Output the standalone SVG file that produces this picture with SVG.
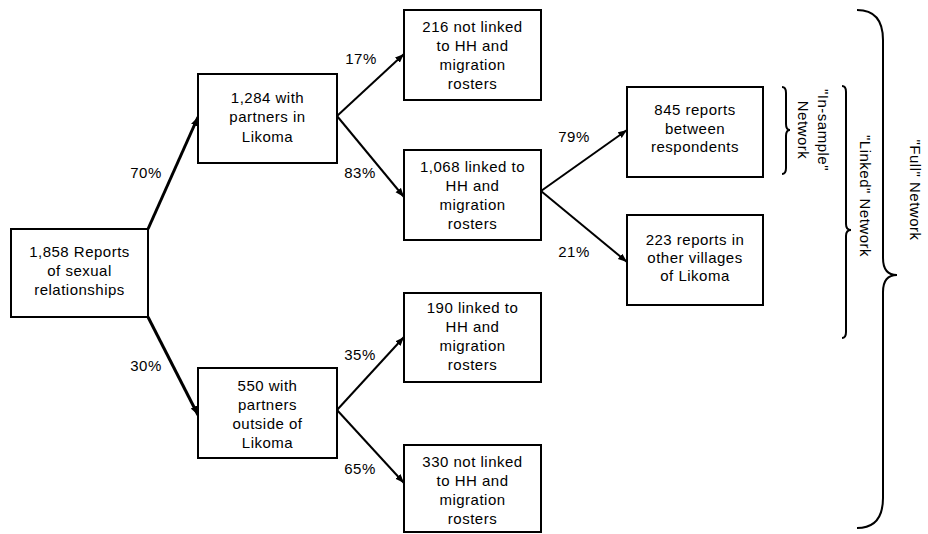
<svg xmlns="http://www.w3.org/2000/svg" width="928" height="534" viewBox="0 0 928 534">
<style>
.box{fill:#fff;stroke:#000;stroke-width:2}
.t{font-family:"Liberation Sans",Arial,sans-serif;font-size:15px;letter-spacing:0.5px;fill:#000;text-anchor:middle}
.c{stroke:#000;stroke-width:2;fill:none}
.br{stroke:#000;stroke-width:2;fill:none}
</style>
<defs>
<marker id="ah" markerUnits="userSpaceOnUse" markerWidth="10" markerHeight="8" refX="9" refY="3.5" orient="auto">
<path d="M0,0 L9,3.5 L0,7 z" fill="#000"/>
</marker>
</defs>
<g id="connectors">
<line class="c" x1="148" y1="229" x2="198" y2="117" style="stroke-width:3" marker-end="url(#ah)"/>
<line class="c" x1="148" y1="317" x2="198" y2="415" style="stroke-width:3" marker-end="url(#ah)"/>
<line class="c" x1="337" y1="116" x2="404" y2="54" marker-end="url(#ah)"/>
<line class="c" x1="337" y1="116" x2="404" y2="197" marker-end="url(#ah)"/>
<line class="c" x1="541" y1="191" x2="627" y2="130" marker-end="url(#ah)"/>
<line class="c" x1="541" y1="191" x2="627" y2="262" marker-end="url(#ah)"/>
<line class="c" x1="337" y1="410" x2="404" y2="337" marker-end="url(#ah)"/>
<line class="c" x1="337" y1="410" x2="404" y2="483" marker-end="url(#ah)"/>
<text class="t" x="146" y="178">70%</text>
<text class="t" x="146" y="371">30%</text>
<text class="t" x="361" y="64">17%</text>
<text class="t" x="360" y="178">83%</text>
<text class="t" x="574" y="142">79%</text>
<text class="t" x="574" y="257">21%</text>
<text class="t" x="360" y="360">35%</text>
<text class="t" x="360" y="474">65%</text>
</g>
<g id="n1">
<rect class="box" x="11" y="229" width="137" height="88"/>
<text class="t" x="79.5" y="257">1,858 Reports</text>
<text class="t" x="79.5" y="276">of sexual</text>
<text class="t" x="79.5" y="295">relationships</text>
</g>
<g id="n2">
<rect class="box" x="198" y="74" width="139" height="89"/>
<text class="t" x="267.5" y="103">1,284 with</text>
<text class="t" x="267.5" y="122">partners in</text>
<text class="t" x="267.5" y="142">Likoma</text>
</g>
<g id="n3">
<rect class="box" x="404" y="10" width="137" height="90"/>
<text class="t" x="472.5" y="32">216 not linked</text>
<text class="t" x="472.5" y="51">to HH and</text>
<text class="t" x="472.5" y="70">migration</text>
<text class="t" x="472.5" y="89">rosters</text>
</g>
<g id="n4">
<rect class="box" x="404" y="150" width="137" height="90"/>
<text class="t" x="472.5" y="172">1,068 linked to</text>
<text class="t" x="472.5" y="191">HH and</text>
<text class="t" x="472.5" y="210">migration</text>
<text class="t" x="472.5" y="229">rosters</text>
</g>
<g id="n5">
<rect class="box" x="627" y="87" width="136" height="90"/>
<text class="t" x="695" y="115">845 reports</text>
<text class="t" x="695" y="133.5">between</text>
<text class="t" x="695" y="152">respondents</text>
</g>
<g id="n6">
<rect class="box" x="627" y="215" width="136" height="90"/>
<text class="t" x="695" y="245">223 reports in</text>
<text class="t" x="695" y="263">other villages</text>
<text class="t" x="695" y="281">of Likoma</text>
</g>
<g id="n7">
<rect class="box" x="198" y="368" width="139" height="90"/>
<text class="t" x="267.5" y="391">550 with</text>
<text class="t" x="267.5" y="410">partners</text>
<text class="t" x="267.5" y="429">outside of</text>
<text class="t" x="267.5" y="448">Likoma</text>
</g>
<g id="n8">
<rect class="box" x="404" y="293" width="137" height="89"/>
<text class="t" x="472.5" y="313">190 linked to</text>
<text class="t" x="472.5" y="332">HH and</text>
<text class="t" x="472.5" y="351">migration</text>
<text class="t" x="472.5" y="370">rosters</text>
</g>
<g id="n9">
<rect class="box" x="404" y="445" width="137" height="87"/>
<text class="t" x="472.5" y="467">330 not linked</text>
<text class="t" x="472.5" y="486">to HH and</text>
<text class="t" x="472.5" y="505">migration</text>
<text class="t" x="472.5" y="524">rosters</text>
</g>
<g id="brace-insample">
<path class="br" d="M782,87 Q786,87 786,93 L786,124 Q786,130 790,130 Q786,130 786,136 L786,168 Q786,174 782,174"/>
<text class="t" transform="translate(818,130) rotate(90)">"In-sample"</text>
<text class="t" transform="translate(798,130) rotate(90)">Network</text>
</g>
<g id="brace-linked">
<path class="br" d="M842,86 Q846,86 846,92 L846,224 Q846,230 851,230 Q846,230 846,236 L846,332 Q846,338 842,338"/>
<text class="t" transform="translate(860,196) rotate(90)">"Linked" Network</text>
</g>
<g id="brace-full">
<path class="br" d="M857,10 Q883,10 883,40 L883,258 Q883,275 897,275 Q883,275 883,292 L883,498 Q883,528 857,528"/>
<text class="t" transform="translate(910,190) rotate(90)">"Full" Network</text>
</g>
</svg>
